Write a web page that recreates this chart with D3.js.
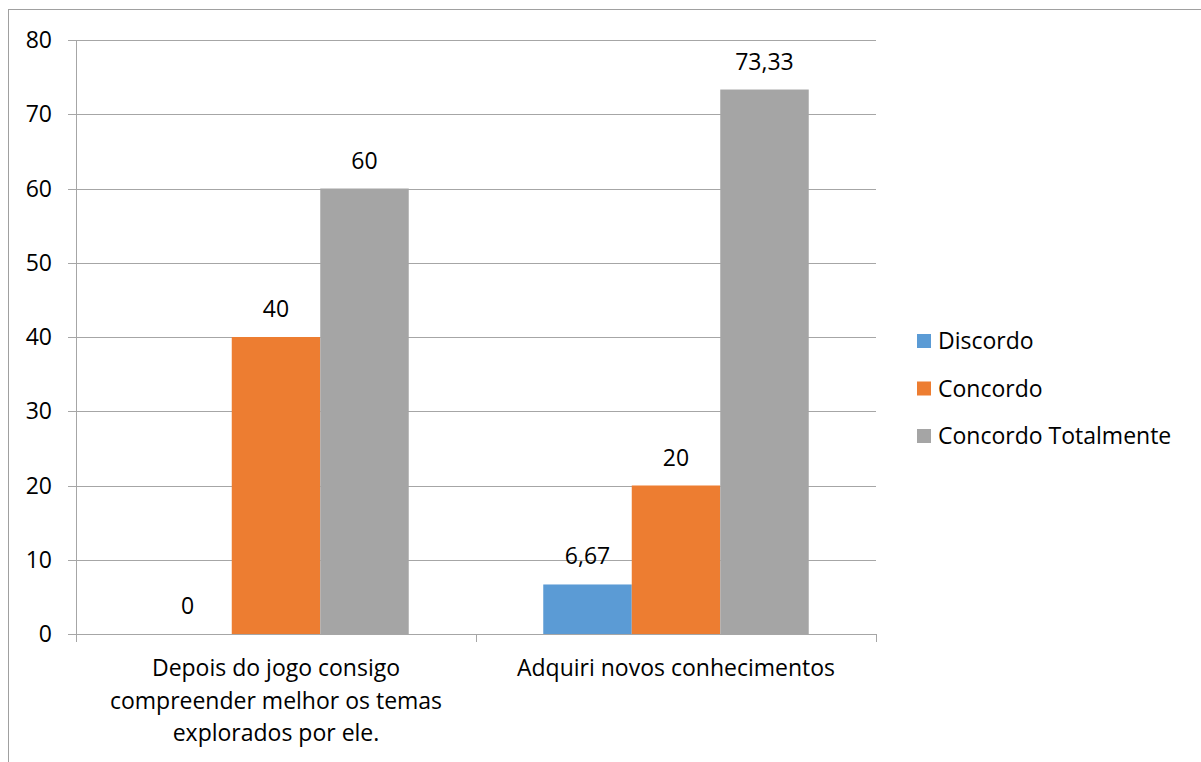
<!DOCTYPE html>
<html>
<head>
<meta charset="utf-8">
<script src="https://cdn.jsdelivr.net/npm/d3@7"></script>
<style>
  html, body { margin: 0; padding: 0; background: #fff; }
  svg { display: block; }
  text { font-family: "Open Sans", sans-serif; fill: #000; }
</style>
</head>
<body>
<svg id="chart" width="1201" height="762"></svg>
<script>
// chart data
const categories = [
  ['Depois do jogo consigo', 'compreender melhor os temas', 'explorados por ele.'],
  ['Adquiri novos conhecimentos']
];
const seriesNames = ['Discordo', 'Concordo', 'Concordo Totalmente'];
const seriesColors = ['#5B9BD5', '#ED7D31', '#A5A5A5'];
const discordo = [0, 6.67];
const concordo = [40, 20];
const totalmente = [60, 73.33];
const yTicks = [0, 10, 20, 30, 40, 50, 60, 70, 80];

const series = [discordo, concordo, totalmente];
const fs = 23;

const svg = d3.select('#chart');
const margin = { left: 76, top: 40, right: 325, bottom: 128 };
const width = 1201 - margin.left - margin.right;
const height = 762 - margin.top - margin.bottom;

// outer chart border (runs off right/bottom of the picture)
svg.append('rect')
  .attr('x', 8.5).attr('y', 9.5)
  .attr('width', 1300).attr('height', 900)
  .attr('fill', 'none').attr('stroke', '#a0a0a0').attr('stroke-width', 1);

const g = svg.append('g').attr('transform', `translate(${margin.left},${margin.top})`);

const x0 = d3.scaleBand().domain(d3.range(categories.length)).range([0, width]);
const x1 = d3.scaleBand().domain(d3.range(seriesNames.length))
  .range([0, x0.bandwidth()]).paddingOuter(0.76).paddingInner(0);
const y = d3.scaleLinear().domain([0, 80]).range([height, 0]);

// gridlines
g.append('g').selectAll('line').data(yTicks.filter(d => d > 0)).join('line')
  .attr('x1', -8).attr('x2', width)
  .attr('y1', d => Math.round(y(d)) + 0.5).attr('y2', d => Math.round(y(d)) + 0.5)
  .attr('stroke', '#a6a6a6');

// y labels
g.append('g').selectAll('text').data(yTicks).join('text')
  .attr('x', -24).attr('y', d => y(d)).attr('dy', '0.35em')
  .attr('text-anchor', 'end').attr('font-size', fs)
  .text(d => d);

// bars
const groups = g.append('g').selectAll('g').data(categories).join('g')
  .attr('transform', (d, i) => `translate(${x0(i)},0)`);

groups.each(function (c, ci) {
  const grp = d3.select(this);
  series.forEach((vals, si) => {
    const v = vals[ci];
    grp.append('rect')
      .attr('x', x1(si)).attr('width', x1.bandwidth())
      .attr('y', y(v)).attr('height', height - y(v))
      .attr('fill', seriesColors[si]);
    grp.append('text')
      .attr('x', x1(si) + x1.bandwidth() / 2)
      .attr('y', y(v) - 20)
      .attr('text-anchor', 'middle').attr('font-size', fs)
      .text(String(v).replace('.', ','));
  });
});

// x axis line and ticks
g.append('line').attr('x1', -8).attr('x2', width)
  .attr('y1', height + 0.5).attr('y2', height + 0.5).attr('stroke', '#a6a6a6');
g.append('line').attr('x1', 0.5).attr('x2', 0.5)
  .attr('y1', 0).attr('y2', height + 8).attr('stroke', '#a6a6a6');
g.append('g').selectAll('line').data(d3.range(1, categories.length + 1)).join('line')
  .attr('x1', d => Math.round(d * x0.bandwidth()) + 0.5)
  .attr('x2', d => Math.round(d * x0.bandwidth()) + 0.5)
  .attr('y1', height).attr('y2', height + 8).attr('stroke', '#a6a6a6');

// category labels
groups.append('text')
  .attr('text-anchor', 'middle').attr('font-size', fs)
  .attr('transform', `translate(${x0.bandwidth() / 2},${height + 42})`)
  .selectAll('tspan').data(d => d).join('tspan')
  .attr('x', 0).attr('dy', (d, i) => i === 0 ? 0 : 32.5)
  .text(d => d);

// legend
const legend = svg.append('g').attr('transform', 'translate(917,341)');
const items = legend.selectAll('g').data(seriesNames).join('g')
  .attr('transform', (d, i) => `translate(0,${i * 47.5})`);
items.append('rect').attr('x', 0).attr('y', -7).attr('width', 14).attr('height', 14)
  .attr('fill', (d, i) => seriesColors[i]);
items.append('text').attr('x', 21).attr('dy', '0.35em').attr('font-size', fs)
  .text(d => d);
</script>
</body>
</html>
